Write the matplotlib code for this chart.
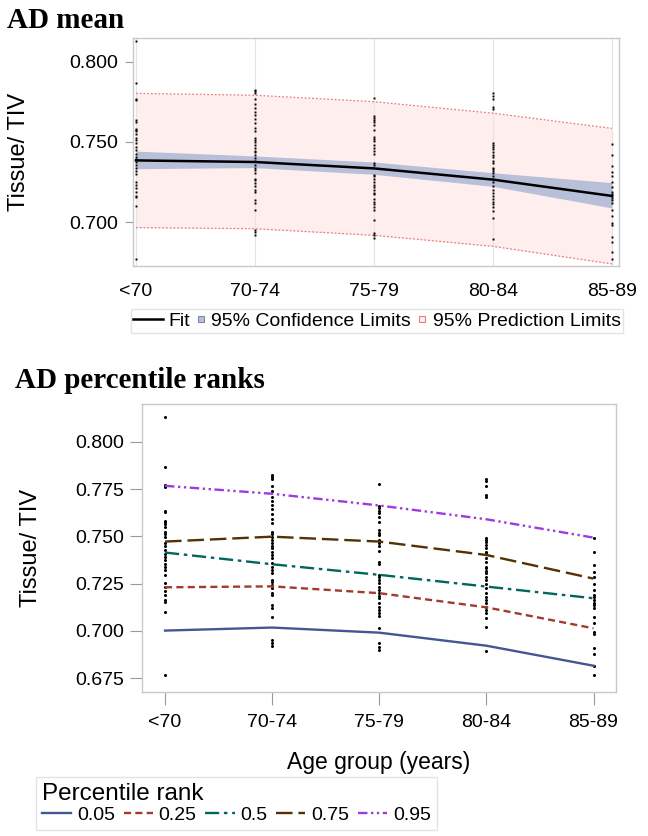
import numpy as np
import matplotlib.pyplot as plt
from matplotlib.lines import Line2D
from matplotlib.legend_handler import HandlerLine2D

plt.rcParams['font.family'] = ['Liberation Sans', 'DejaVu Sans']

age_groups = ['<70', '70-74', '75-79', '80-84', '85-89']

# observed Tissue/TIV values per age group
obs_lt70 = [0.8129, 0.7866, 0.7771, 0.7760, 0.7635, 0.7626, 0.7583, 0.7578, 0.7566,
            0.7551, 0.7525, 0.7511, 0.7495, 0.7467, 0.7451, 0.7426, 0.7405, 0.7393,
            0.7373, 0.7354, 0.7338, 0.7320, 0.7297, 0.7251, 0.7234, 0.7211, 0.7188,
            0.7163, 0.7154, 0.7098, 0.6766]
obs_70_74 = [0.7825, 0.7816, 0.7804, 0.7767, 0.7737, 0.7710, 0.7689, 0.7666, 0.7643,
             0.7617, 0.7590, 0.7569, 0.7525, 0.7513, 0.7498, 0.7481, 0.7463, 0.7446,
             0.7437, 0.7419, 0.7401, 0.7384, 0.7357, 0.7340, 0.7322, 0.7305, 0.7269,
             0.7260, 0.7243, 0.7225, 0.7199, 0.7190, 0.7137, 0.7119, 0.7075, 0.6951,
             0.6937, 0.6921]
obs_75_79 = [0.7776, 0.7661, 0.7649, 0.7636, 0.7622, 0.7604, 0.7573, 0.7534, 0.7520,
             0.7507, 0.7481, 0.7463, 0.7446, 0.7424, 0.7366, 0.7354, 0.7296, 0.7287,
             0.7269, 0.7252, 0.7234, 0.7216, 0.7199, 0.7184, 0.7172, 0.7146, 0.7128,
             0.7110, 0.7093, 0.7078, 0.7013, 0.6934, 0.6916, 0.6898]
obs_80_84 = [0.7804, 0.7790, 0.7767, 0.7719, 0.7707, 0.7493, 0.7481, 0.7469, 0.7454,
             0.7437, 0.7419, 0.7407, 0.7384, 0.7366, 0.7340, 0.7331, 0.7318, 0.7305,
             0.7287, 0.7269, 0.7248, 0.7225, 0.7199, 0.7181, 0.7163, 0.7146, 0.7128,
             0.7110, 0.7093, 0.7066, 0.7022, 0.6895]
obs_85_89 = [0.7490, 0.7416, 0.7349, 0.7313, 0.7287, 0.7248, 0.7216, 0.7190, 0.7177,
             0.7163, 0.7149, 0.7137, 0.7119, 0.7075, 0.7040, 0.6996, 0.6983, 0.6907,
             0.6877, 0.6814, 0.6768]
observations = [obs_lt70, obs_70_74, obs_75_79, obs_80_84, obs_85_89]

# mean model
fit = [0.7385, 0.7375, 0.7335, 0.7265, 0.7163]
ci_lower = [0.7333, 0.7340, 0.7298, 0.7223, 0.7088]
ci_upper = [0.7443, 0.7413, 0.7375, 0.7308, 0.7246]
pi_lower = [0.6965, 0.6958, 0.6917, 0.6848, 0.6738]
pi_upper = [0.7804, 0.7792, 0.7752, 0.7680, 0.7585]

# quantile regression curves
ranks = ['0.05', '0.25', '0.5', '0.75', '0.95']
q05 = [0.7001, 0.7017, 0.6990, 0.6921, 0.6815]
q25 = [0.7230, 0.7235, 0.7199, 0.7124, 0.7013]
q50 = [0.7414, 0.7352, 0.7296, 0.7234, 0.7172]
q75 = [0.7472, 0.7498, 0.7472, 0.7401, 0.7276]
q95 = [0.7767, 0.7725, 0.7663, 0.7590, 0.7493]
quantiles = [q05, q25, q50, q75, q95]

q_colors = ['#445694', '#A23A2E', '#01665E', '#543005', '#9D3CDB']
q_styles = ['-', (0, (3, 1.8)), (0, (6, 2, 1.5, 2)), (0, (7, 2.5)),
            (0, (4, 1.5, 1, 1.5, 1, 1.5))]

spine_col = '#C8C8C8'
x = np.arange(len(age_groups))


class SmallHandler(HandlerLine2D):
    def legend_artist(self, legend, orig_handle, fontsize, handlebox):
        handlebox.width = 0.45 * fontsize
        return super().legend_artist(legend, orig_handle, fontsize, handlebox)


def style_axes(ax):
    for s in ax.spines.values():
        s.set_color(spine_col)
        s.set_linewidth(1.0)
    ax.set_xticks(x)
    ax.set_xticklabels(age_groups)
    ax.tick_params(labelsize=14, colors='#999999', labelcolor='black')


fig = plt.figure(figsize=(6.48, 8.36), dpi=100)

# ---- AD mean ----
ax1 = fig.add_axes([133 / 648, 1 - 266 / 836, 486 / 648, 228 / 836])
ax1.fill_between(x, pi_lower, pi_upper, color='#FFEEEE', lw=0, zorder=1)
ax1.plot(x, pi_lower, color='#E87C80', lw=0.9, ls=(0, (1.5, 1.5)), zorder=2)
ax1.plot(x, pi_upper, color='#E87C80', lw=0.9, ls=(0, (1.5, 1.5)), zorder=2)
ax1.fill_between(x, ci_lower, ci_upper, color='#B8BFD8', lw=0, zorder=3)
for i in x:
    ax1.axvline(i, color='#E4E4E4', lw=0.8, zorder=1.5)
    ax1.plot([i] * len(observations[i]), observations[i], 's', color='black',
             ms=1.4, mew=0, zorder=4)
ax1.plot(x, fit, color='black', lw=1.8, zorder=5)
ax1.set_xlim(-0.025, 4.06)
ax1.set_ylim(0.6725, 0.815)
ax1.set_yticks([0.700, 0.750, 0.800])
ax1.set_yticklabels(['0.700', '0.750', '0.800'])
style_axes(ax1)
ax1.tick_params(axis='x', length=0, pad=12)
ax1.tick_params(axis='y', length=6, pad=5)
ax1.set_ylabel('Tissue/ TIV', fontsize=17)
ax1.yaxis.set_label_coords(-0.212, 0.5)

h_fit = Line2D([], [], color='black', lw=1.8)
h_ci = Line2D([], [], ls='none', marker='s', ms=5, mfc='#B8BFD8', mec='#7F87A8', mew=0.8)
h_pi = Line2D([], [], ls='none', marker='s', ms=5, mfc='#FFEEEE', mec='#E87C80', mew=0.8)
leg1 = fig.legend([h_fit, h_ci, h_pi],
                  ['Fit', '95% Confidence Limits', '95% Prediction Limits'],
                  loc='center', bbox_to_anchor=(377 / 648, 1 - 321 / 836), ncol=3,
                  fontsize=14, frameon=True, fancybox=False, edgecolor='#DDDDDD',
                  handlelength=1.5, handletextpad=0.3, columnspacing=0.35,
                  borderpad=0.15, borderaxespad=0,
                  handler_map={h_ci: SmallHandler(), h_pi: SmallHandler()})
leg1.get_frame().set_linewidth(1.0)

fig.text(7 / 648, 1 - 28 / 836, 'AD mean', fontsize=21, fontweight='bold',
         family='Liberation Serif', va='baseline', ha='left')

# ---- AD percentile ranks ----
ax2 = fig.add_axes([142 / 648, 1 - 692 / 836, 474 / 648, 288 / 836])
for i in x:
    ax2.plot([i] * len(observations[i]), observations[i], 'o', color='black',
             ms=2.2, mew=0, zorder=2)
for q, c, ls, lab in zip(quantiles, q_colors, q_styles, ranks):
    ax2.plot(x, q, color=c, ls=ls, lw=1.7, label=lab, zorder=3)
ax2.set_xlim(-0.215, 4.21)
ax2.set_ylim(0.6676, 0.820)
ax2.set_yticks([0.675, 0.700, 0.725, 0.750, 0.775, 0.800])
ax2.set_yticklabels(['0.675', '0.700', '0.725', '0.750', '0.775', '0.800'])
style_axes(ax2)
ax2.tick_params(axis='x', length=9, pad=7)
ax2.tick_params(axis='y', length=9, pad=4)
ax2.set_ylabel('Tissue/ TIV', fontsize=17)
ax2.yaxis.set_label_coords(-0.21, 0.5)
ax2.set_xlabel('Age group (years)', fontsize=16.5, labelpad=14)

leg2 = fig.legend(*ax2.get_legend_handles_labels(), loc='upper left',
                  bbox_to_anchor=(36 / 648, 1 - 777 / 836), ncol=5, fontsize=14,
                  title='Percentile rank', title_fontsize=17.5, alignment='left',
                  frameon=True, fancybox=False, edgecolor='#DDDDDD',
                  handlelength=1.5, handletextpad=0.3, columnspacing=0.45,
                  borderpad=0.3, borderaxespad=0)
leg2.get_frame().set_linewidth(1.0)
leg2._legend_box.sep = 1

fig.text(15 / 648, 1 - 388 / 836, 'AD percentile ranks', fontsize=21, fontweight='bold',
         family='Liberation Serif', va='baseline', ha='left')

fig.savefig('out.png', dpi=100, facecolor='white')
